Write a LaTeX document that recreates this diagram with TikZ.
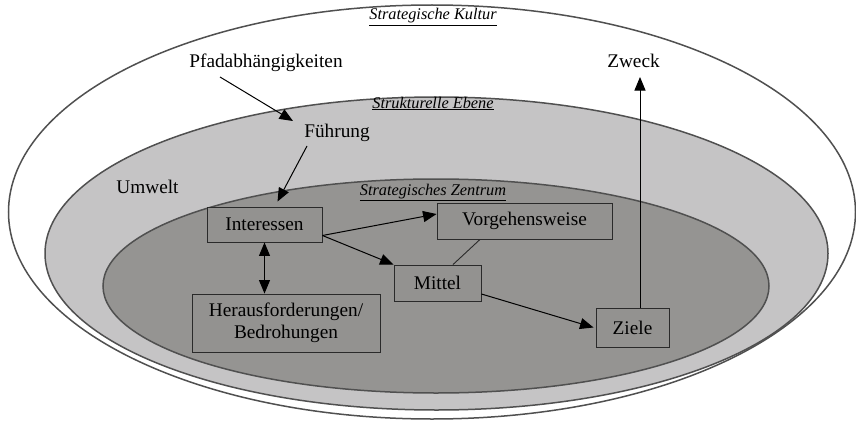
\documentclass[tikz,border=0pt]{standalone}
\usepackage{fontspec}
\setmainfont{Liberation Serif}
\usetikzlibrary{arrows.meta}
\definecolor{rim}{HTML}{505050}
\definecolor{outerfill}{HTML}{FFFFFF}
\definecolor{midfill}{HTML}{C5C4C5}
\definecolor{corefill}{HTML}{959492}
\definecolor{boxfill}{HTML}{939290}
\definecolor{boxline}{HTML}{2A2A2A}
\begin{document}
\begin{tikzpicture}[x=1pt,y=-1pt,
  layer/.style={draw=rim,line width=1.5pt},
  txt/.style={inner sep=0pt,anchor=base,font=\fontsize{19.3}{22}\selectfont},
  lab/.style={inner sep=0pt,anchor=base,font=\fontsize{16.3}{18}\selectfont\itshape},
  box/.style={draw=boxline,line width=0.9pt,fill=boxfill,inner sep=0pt,align=center,
              font=\fontsize{19.3}{22}\selectfont},
  arr/.style={-{Triangle[length=13.5pt,width=11pt]},line width=1pt,draw=black},
  biarr/.style={{Triangle[length=13.5pt,width=11pt]}-{Triangle[length=13.5pt,width=11pt]},line width=1pt,draw=black},
  link/.style={line width=0.9pt,draw=boxline}]
\useasboundingbox (0,0) rectangle (856,420);

% nested levels
\draw[layer,fill=outerfill] (432,212) ellipse [x radius=423.5pt, y radius=207pt];
\draw[layer,fill=midfill] (436.5,253.5) ellipse [x radius=391.5pt, y radius=156.5pt];
\draw[layer,fill=corefill] (436,286) ellipse [x radius=333pt, y radius=107pt];

% level captions
\node[lab] (kultur) at (433,20) {\underline{Strategische Kultur}};
\node[lab] (ebene) at (433,108) {\underline{Strukturelle Ebene}};
\node[lab] (zentrum) at (433,195) {\underline{Strategisches Zentrum}};

% free-standing terms
\node[txt] (pfad) at (266,67) {Pfadabhängigkeiten};
\node[txt] (zweck) at (633.5,67) {Zweck};
\node[txt] (fuehr) at (337,137) {Führung};
\node[txt] (umwelt) at (147.5,193) {Umwelt};

% boxes of the strategic centre
\node[box,minimum width=115pt,minimum height=35pt] (int) at (264.5,224.5) {Interessen};
\node[box,minimum width=175pt,minimum height=36pt] (vorg) at (524.5,221) {Vorgehensweise};
\node[box,minimum width=87pt,minimum height=36pt] (mittel) at (437.5,283) {Mittel};
\node[box,minimum width=188pt,minimum height=58pt] (her) at (286,323) {Herausforderungen/\\Bedrohungen};
\node[box,minimum width=73pt,minimum height=39pt] (ziele) at (632.5,327.5) {Ziele};

% connectors
\draw[arr] ([shift={(-46,10)}]pfad.base) -- ([shift={(-44,-16)}]fuehr.base);
\draw[arr] ([shift={(-30,9)}]fuehr.base) -- ([shift={(13,-5)}]int.north);
\draw[biarr] (int.south) -- (int.south |- her.north);
\draw[arr] ([shift={(0,11)}]int.east) -- ([shift={(0,-7)}]vorg.west);
\draw[arr] ([shift={(0,11)}]int.east) -- (mittel.north west);
\draw[link] ([shift={(-44.5,0)}]vorg.south) -- ([shift={(15.5,0)}]mittel.north);
\draw[arr] ([shift={(0,11)}]mittel.east) -- ([shift={(-2,0)}]ziele.west);
\draw[arr] ([shift={(7.5,0)}]ziele.north) -- ([shift={(6.5,10)}]zweck.base);
\end{tikzpicture}
\end{document}
